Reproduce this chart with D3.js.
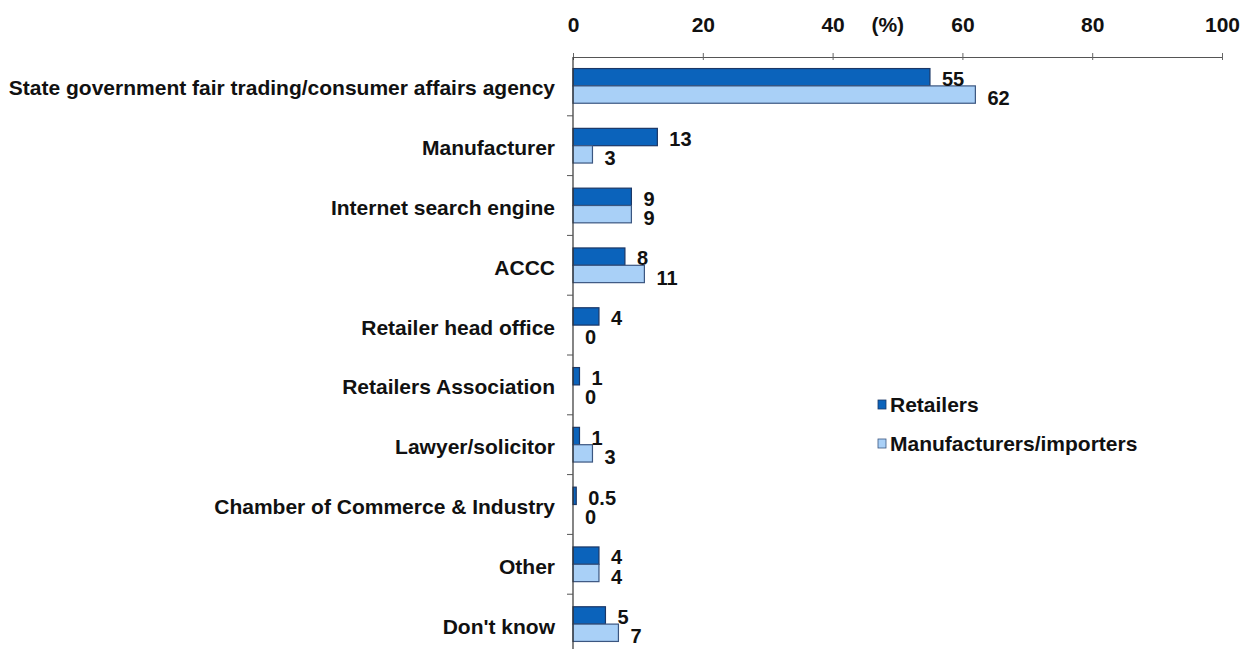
<!DOCTYPE html>
<html>
<head>
<meta charset="utf-8">
<script src="https://cdn.jsdelivr.net/npm/d3@7"></script>
<style>
  body { margin: 0; background: #fff; }
  text { font-family: "Liberation Sans", Arial, sans-serif; fill: #111; }
</style>
</head>
<body>
<div id="chart"></div>
<script>
const categories = [
  'State government fair trading/consumer affairs agency',
  'Manufacturer',
  'Internet search engine',
  'ACCC',
  'Retailer head office',
  'Retailers Association',
  'Lawyer/solicitor',
  'Chamber of Commerce & Industry',
  'Other',
  "Don't know"
];
const seriesNames = ['Retailers', 'Manufacturers/importers'];
const retailers = [55, 13, 9, 8, 4, 1, 1, 0.5, 4, 5];
const manufacturers = [62, 3, 9, 11, 0, 0, 3, 0, 4, 7];
const xTicks = [0, 20, 40, 60, 80, 100];

const colors = { fill: ['#0b63bb', '#a9d0f7'], stroke: ['#1b3766', '#3b5680'] };

const W = 1251, H = 649;
const svg = d3.select('#chart').append('svg').attr('width', W).attr('height', H);

const x = d3.scaleLinear().domain([0, 100]).range([573, 1222]);
const y = d3.scaleBand().domain(categories).range([56, 654]).paddingInner(0.42).paddingOuter(0.21);
const ySub = d3.scaleBand().domain(seriesNames).range([0, y.bandwidth()]);

const rows = categories.map((c, i) => ({ cat: c, vals: [retailers[i], manufacturers[i]] }));

// top axis
const axisY = 57;
const topAxis = svg.append('g').attr('transform', `translate(0,${axisY})`)
  .call(d3.axisTop(x).tickValues(xTicks).tickSize(0).tickPadding(25));
topAxis.select('.domain').attr('stroke', '#555').attr('stroke-width', 1.2);
topAxis.selectAll('text').attr('font-size', 21).attr('font-weight', 'bold').attr('fill', '#111');
topAxis.selectAll('.tick').append('line').attr('y1', -4).attr('y2', 3).attr('stroke', '#666');

svg.append('text')
  .attr('x', x(48.5)).attr('y', axisY - 25)
  .attr('text-anchor', 'middle').attr('font-size', 21).attr('font-weight', 'bold')
  .text('(%)');

// bars
const groups = svg.append('g').selectAll('g').data(rows).join('g')
  .attr('transform', d => `translate(0,${y(d.cat)})`);

groups.selectAll('rect').data(d => d.vals.map((v, j) => ({ v, j }))).join('rect')
  .attr('x', x(0))
  .attr('y', d => ySub(seriesNames[d.j]))
  .attr('width', d => x(d.v) - x(0))
  .attr('height', ySub.bandwidth())
  .attr('fill', d => colors.fill[d.j])
  .attr('stroke', d => colors.stroke[d.j])
  .attr('stroke-width', 1.2);

groups.selectAll('text.val').data(d => d.vals.map((v, j) => ({ v, j }))).join('text')
  .attr('class', 'val')
  .attr('x', d => x(d.v) + 12)
  .attr('y', d => ySub(seriesNames[d.j]) + ySub.bandwidth() + (d.j === 0 ? 0 : 2))
  .attr('font-size', 20).attr('font-weight', 'bold')
  .text(d => d.v);

// left axis
const leftAxis = svg.append('g').attr('transform', `translate(${x(0)},0)`)
  .call(d3.axisLeft(y).tickSize(0).tickPadding(18));
leftAxis.select('.domain').remove();
leftAxis.selectAll('text').attr('font-size', 21).attr('font-weight', 'bold')
  .attr('dy', '0.45em').attr('fill', '#111');

svg.append('line').attr('x1', x(0)).attr('x2', x(0)).attr('y1', axisY).attr('y2', H)
  .attr('stroke', '#333').attr('stroke-width', 1.2);
svg.append('g').selectAll('line').data(categories.slice(1)).join('line')
  .attr('x1', x(0) - 6).attr('x2', x(0))
  .attr('y1', d => y(d) - y.step() * y.paddingInner() / 2)
  .attr('y2', d => y(d) - y.step() * y.paddingInner() / 2)
  .attr('stroke', '#555');

// legend
const legend = svg.append('g').attr('transform', 'translate(878,405)');
seriesNames.forEach((s, i) => {
  const g = legend.append('g').attr('transform', `translate(0,${i * 39})`);
  g.append('rect').attr('x', 0).attr('y', -5).attr('width', 8).attr('height', 9)
    .attr('fill', colors.fill[i]).attr('stroke', colors.stroke[i]).attr('stroke-width', 0.8);
  g.append('text').attr('x', 12).attr('y', 0).attr('dy', '0.35em')
    .attr('font-size', 21).attr('font-weight', 'bold')
    .text(s);
});
</script>
</body>
</html>
